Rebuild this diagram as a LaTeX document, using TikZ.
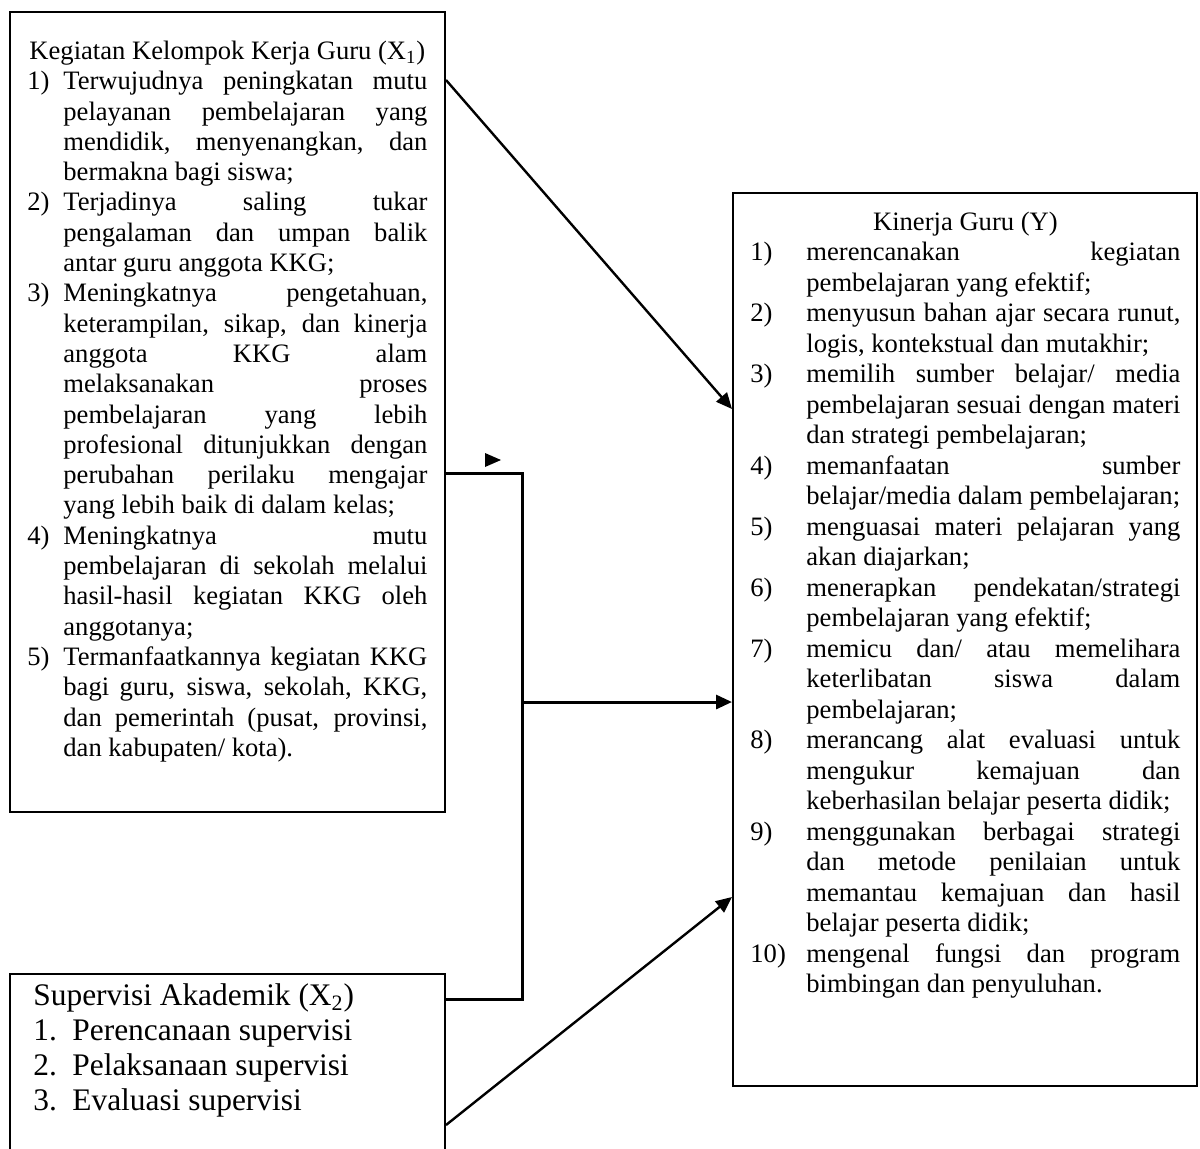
\documentclass[tikz,border=0pt]{standalone}
\usepackage{fontspec}
\setmainfont{Liberation Serif}
\usetikzlibrary{arrows.meta,calc}
\newlength\numw
\newlength\txtw
\newcommand\NJ[2]{\makebox[\numw][l]{#1}\makebox[\txtw][s]{#2}}
\newcommand\CJ[1]{\hspace*{\numw}\makebox[\txtw][s]{#1}}
\newcommand\NL[2]{\makebox[\numw][l]{#1}\mbox{#2}}
\newcommand\CL[1]{\hspace*{\numw}\mbox{#1}}
\newcommand\txtsetup[2]{\spaceskip=0pt\xspaceskip=0pt\setlength\numw{#1}\setlength\txtw{#2}}
\begin{document}
\begin{tikzpicture}[x=0.5pt,y=-0.5pt,
  box/.style={draw, line width=1pt, inner sep=0pt, anchor=north west},
  txt/.style={inner sep=0pt, anchor=north west, align=left},
  arr/.style={line width=1.2pt, -{Triangle[length=8pt,width=7pt]}},
  elbow/.style={line width=1.5pt}]
\path[use as bounding box] (0,0) rectangle (1200,1148);
\clip (0,0) rectangle (1200,1148);
% boxes
\node[box, minimum width=217.5pt, minimum height=400pt] (x1) at (9,11) {};
\node[box, minimum width=232pt, minimum height=446.5pt] (y) at (732,192) {};
\node[box, minimum width=217.5pt, minimum height=140pt] (x2) at (9,973) {};
% texts
\node[txt, text width=200pt, font=\fontsize{13.3}{15.15}\selectfont] (t1) at (27,37.8) {%
\txtsetup{18pt}{182pt}%
\strut\makebox[200pt][c]{Kegiatan Kelompok Kerja Guru (X\textsubscript{1})}\\
\NJ{1)}{Terwujudnya peningkatan mutu}\\
\CJ{pelayanan pembelajaran yang}\\
\CJ{mendidik, menyenangkan, dan}\\
\CL{bermakna bagi siswa;}\\
\NJ{2)}{Terjadinya saling tukar}\\
\CJ{pengalaman dan umpan balik}\\
\CL{antar guru anggota KKG;}\\
\NJ{3)}{Meningkatnya pengetahuan,}\\
\CJ{keterampilan, sikap, dan kinerja}\\
\CJ{anggota KKG alam}\\
\CJ{melaksanakan proses}\\
\CJ{pembelajaran yang lebih}\\
\CJ{profesional ditunjukkan dengan}\\
\CJ{perubahan perilaku mengajar}\\
\CL{yang lebih baik di dalam kelas;}\\
\NJ{4)}{Meningkatnya mutu}\\
\CJ{pembelajaran di sekolah melalui}\\
\CJ{hasil-hasil kegiatan KKG oleh}\\
\CL{anggotanya;}\\
\NJ{5)}{Termanfaatkannya kegiatan KKG}\\
\CJ{bagi guru, siswa, sekolah, KKG,}\\
\CJ{dan pemerintah (pusat, provinsi,}\\
\CL{dan kabupaten/ kota).}};
\node[txt, text width=215pt, font=\fontsize{13.3}{15.25}\selectfont] (t3) at (750,208.6) {%
\txtsetup{28pt}{187pt}%
\strut\makebox[215pt][c]{Kinerja Guru (Y)}\\
\NJ{1)}{merencanakan kegiatan}\\
\CL{pembelajaran yang efektif;}\\
\NJ{2)}{menyusun bahan ajar secara runut,}\\
\CL{logis, kontekstual dan mutakhir;}\\
\NJ{3)}{memilih sumber belajar/ media}\\
\CJ{pembelajaran sesuai dengan materi}\\
\CL{dan strategi pembelajaran;}\\
\NJ{4)}{memanfaatan sumber}\\
\CL{belajar/media dalam pembelajaran;}\\
\NJ{5)}{menguasai materi pelajaran yang}\\
\CL{akan diajarkan;}\\
\NJ{6)}{menerapkan pendekatan/strategi}\\
\CL{pembelajaran yang efektif;}\\
\NJ{7)}{memicu dan/ atau memelihara}\\
\CJ{keterlibatan siswa dalam}\\
\CL{pembelajaran;}\\
\NJ{8)}{merancang alat evaluasi untuk}\\
\CJ{mengukur kemajuan dan}\\
\CL{keberhasilan belajar peserta didik;}\\
\NJ{9)}{menggunakan berbagai strategi}\\
\CJ{dan metode penilaian untuk}\\
\CJ{memantau kemajuan dan hasil}\\
\CL{belajar peserta didik;}\\
\NJ{10)}{mengenal fungsi dan program}\\
\CL{bimbingan dan penyuluhan.}};
\node[txt, text width=205pt, font=\fontsize{15.7}{17.5}\selectfont] (t2) at (33,980.5) {%
\txtsetup{19.5pt}{185pt}%
\strut Supervisi Akademik (X\textsubscript{2})\\
\NL{1.}{Perencanaan supervisi}\\
\NL{2.}{Pelaksanaan supervisi}\\
\NL{3.}{Evaluasi supervisi}};
% connectors
\coordinate (p1) at ($(x1.north east)+(0,69)$);
\coordinate (q1) at ($(y.north west)+(0,217)$);
\draw[arr] (p1) -- (q1);
\coordinate (e1) at ($(x1.north east)+(0,462)$);
\coordinate (e2) at ($(x2.north east)+(0,26)$);
\coordinate (j1) at (522,473);
\coordinate (j2) at (522,999);
\draw[elbow, line join=miter] (e1) -- (j1) -- (j2) -- (e2);
\coordinate (jm) at (522,702);
\draw[elbow, -{Triangle[length=8pt,width=7pt]}] (jm) -- (jm -| y.west);
\coordinate (p2) at ($(x2.north east)+(0,152)$);
\coordinate (q2) at ($(y.north west)+(0,705)$);
\draw[arr] (p2) -- (q2);
\coordinate (st) at (485,453);
\fill (st) -- ++(0,14) -- ++(16,-7) -- cycle;
\end{tikzpicture}
\end{document}
